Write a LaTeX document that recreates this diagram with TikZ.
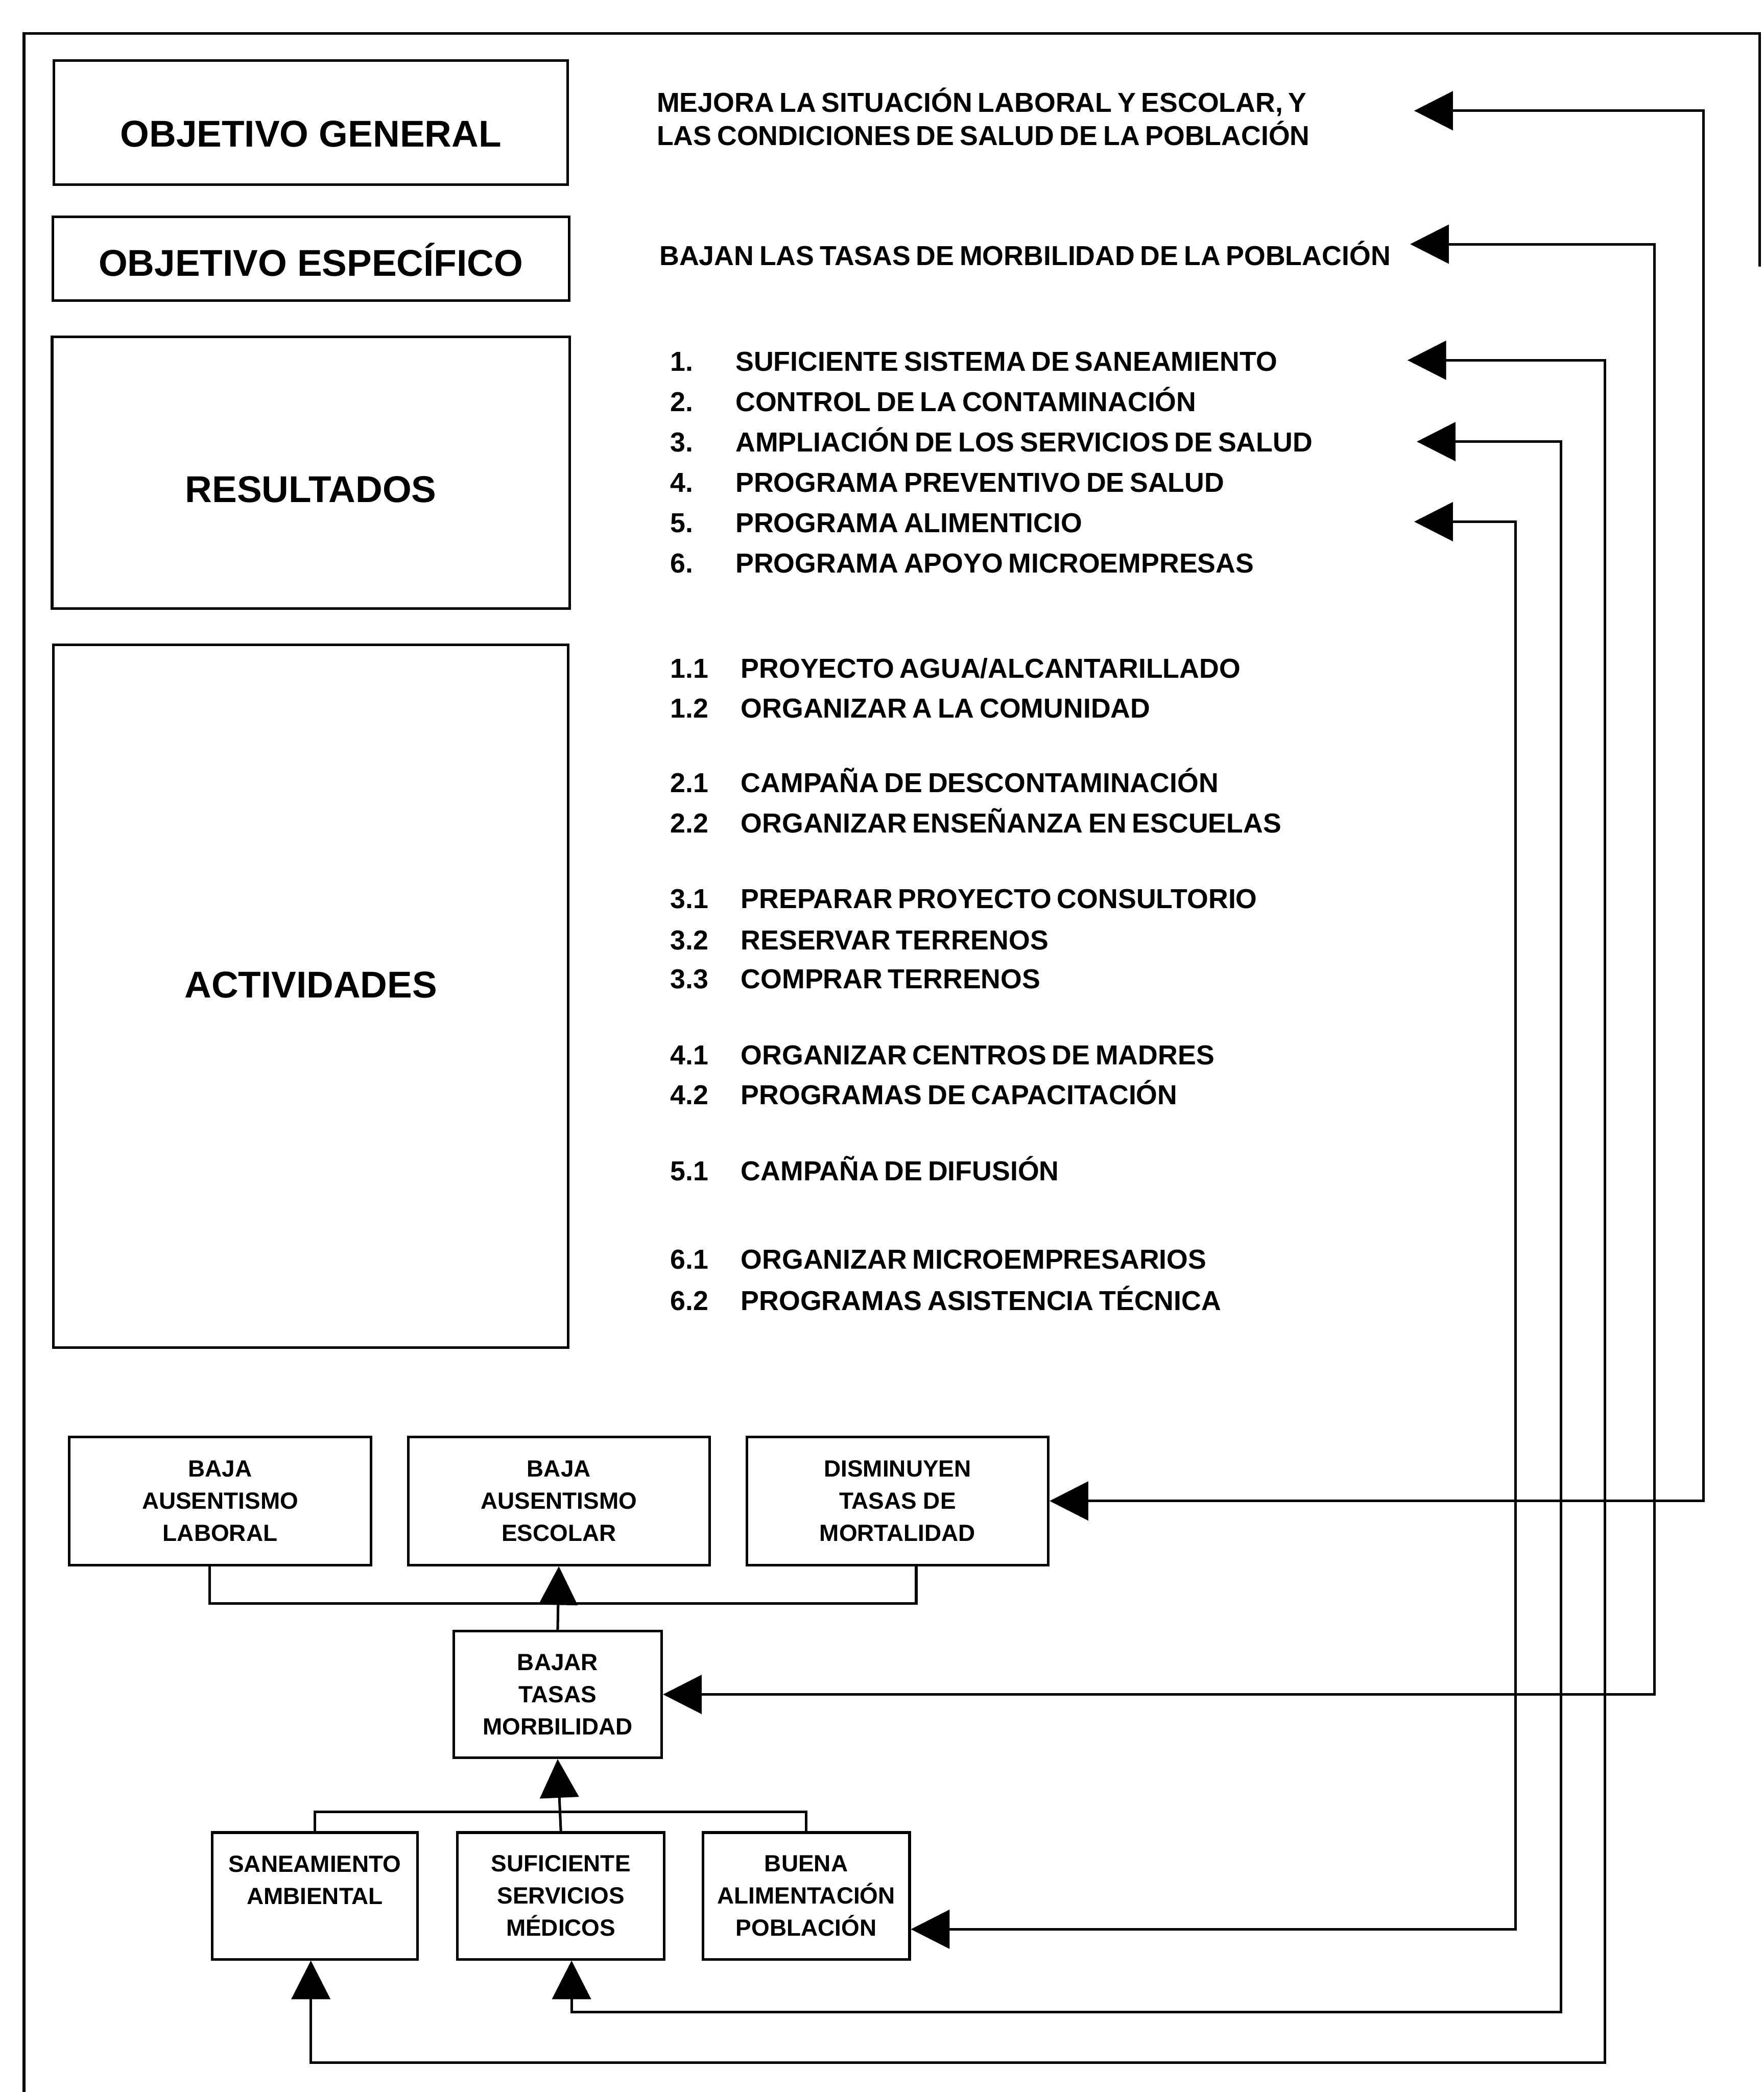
\documentclass[tikz,border=0pt]{standalone}
\usepackage{fontspec}
\setmainfont{Liberation Sans}
\usetikzlibrary{arrows.meta,positioning}
\newcommand\itemfont{\fontsize{11.7}{14.2}\selectfont\bfseries\spaceskip 0.2em\relax}
\newcommand\hdrtext[2]{\raisebox{#1}[0pt][0pt]{#2}}

\begin{document}
\begin{tikzpicture}[
  x=0.02cm, y=-0.02cm,
  every node/.style={font=\bfseries},
  hdr/.style={rectangle, draw, line width=1.1pt, align=center, inner sep=0pt,
              font=\fontsize{15.9}{19}\selectfont\bfseries},
  sbox/.style={rectangle, draw, line width=1.1pt, align=center, inner sep=0pt,
               minimum width=3.1cm, minimum height=1.9cm,
               font=\fontsize{10}{13.7}\selectfont\bfseries},
  wbox/.style={sbox, minimum width=4.52cm, minimum height=1.92cm},
  item/.style={anchor=base west, inner sep=0pt, font=\itemfont},
  link/.style={line width=1.1pt},
  arr/.style={link, -{Triangle[length=0.58cm, width=0.58cm]}},
  darr/.style={link, {Triangle[length=0.58cm, width=0.58cm]}-{Triangle[length=0.58cm, width=0.58cm]}}
]
\useasboundingbox (0,0) rectangle (1322,1568);

\draw[link] (1319,200) -- (1319,25) -- (18,25) -- (18,1568);

\node[hdr, minimum width=7.7cm, minimum height=1.86cm] (OG) at (233,92) {\hdrtext{-0.36cm}{OBJETIVO GENERAL}};
\node[hdr, minimum width=7.74cm, minimum height=1.26cm, below=0.44cm of OG] (OE) {\hdrtext{-0.26cm}{OBJETIVO ESPECÍFICO}};
\node[hdr, minimum width=7.76cm, minimum height=4.08cm, below=0.5cm of OE] (RES) {\hdrtext{-0.44cm}{RESULTADOS}};
\node[hdr, minimum width=7.72cm, minimum height=10.54cm, below=0.5cm of RES] (ACT) {\hdrtext{-0.02cm}{ACTIVIDADES}};

\node[item] (G1) at (492,84) {MEJORA LA SITUACIÓN LABORAL Y ESCOLAR, Y};
\node[item] (G2) at (492,109) {LAS CONDICIONES DE SALUD DE LA POBLACIÓN};
\node[item] (E1) at (494,199) {BAJAN LAS TASAS DE MORBILIDAD DE LA POBLACIÓN};

\foreach \nr/\txt [count=\i] in {1./SUFICIENTE SISTEMA DE SANEAMIENTO,
    2./CONTROL DE LA CONTAMINACIÓN, 3./AMPLIACIÓN DE LOS SERVICIOS DE SALUD,
    4./PROGRAMA PREVENTIVO DE SALUD, 5./PROGRAMA ALIMENTICIO,
    6./PROGRAMA APOYO MICROEMPRESAS}{
  \node[item] (Rn\i) at (502,{248+30.2*\i}) {\nr};
  \node[item] (R\i) at (551,{248+30.2*\i}) {\txt};
}

\foreach \nr/\txt/\yy [count=\i] in {1.1/{PROYECTO AGUA/ALCANTARILLADO}/508,
    1.2/ORGANIZAR A LA COMUNIDAD/538, 2.1/CAMPAÑA DE DESCONTAMINACIÓN/594,
    2.2/ORGANIZAR ENSEÑANZA EN ESCUELAS/624, 3.1/PREPARAR PROYECTO CONSULTORIO/681,
    3.2/RESERVAR TERRENOS/712, 3.3/COMPRAR TERRENOS/741,
    4.1/ORGANIZAR CENTROS DE MADRES/798, 4.2/PROGRAMAS DE CAPACITACIÓN/828,
    5.1/CAMPAÑA DE DIFUSIÓN/885, 6.1/ORGANIZAR MICROEMPRESARIOS/951,
    6.2/PROGRAMAS ASISTENCIA TÉCNICA/982}{
  \node[item] (An\i) at (502,\yy) {\nr};
  \node[item] (A\i) at (555,\yy) {\txt};
}

\node[wbox] (BAL) at (165,1125) {BAJA\\AUSENTISMO\\LABORAL};
\node[wbox, right=0.52cm of BAL] (BAE) {BAJA\\AUSENTISMO\\ESCOLAR};
\node[wbox, right=0.52cm of BAE] (DTM) {DISMINUYEN\\TASAS DE\\MORTALIDAD};
\node[sbox, minimum width=3.12cm] (BTM) at (418,1270) {BAJAR\\TASAS\\MORBILIDAD};
\node[sbox, minimum width=3.08cm] (SA) at (236,1421) {SANEAMIENTO\\AMBIENTAL\\\phantom{A}};
\node[sbox, right=0.56cm of SA] (SSM) {SUFICIENTE\\SERVICIOS\\MÉDICOS};
\node[sbox, right=0.54cm of SSM] (BAP) {BUENA\\ALIMENTACIÓN\\POBLACIÓN};

\coordinate (J1) at (423,1202);
\coordinate (J2) at (418,1358);
\coordinate (aG) at (1060,83);
\coordinate (aE) at (1057,183);
\coordinate (aR1) at (1055,270);
\coordinate (aR3) at (1062,331);
\coordinate (aR5) at (1060,391);

\draw[link] ([xshift=-0.16cm]BAL.south) |- (J1) -| ([xshift=0.28cm]DTM.south);
\draw[arr] (BTM.north) -- (BAE.south);
\draw[link] (SA.north) |- (J2) -| (BAP.north);
\draw[arr] (SSM.north) -- (BTM.south);

\draw[darr] (aG) -- (1277,83) |- (DTM.east);
\draw[darr] (aE) -- (1240,183) |- (BTM.east);
\draw[darr] (aR1) -| (1203,1546) -| ([xshift=-0.06cm]SA.south);
\draw[darr] (aR3) -| (1170,1508) -| ([xshift=0.16cm]SSM.south);
\draw[darr] (aR5) -- (1136,391) |- ([yshift=-0.5cm]BAP.east);

\end{tikzpicture}
\end{document}
